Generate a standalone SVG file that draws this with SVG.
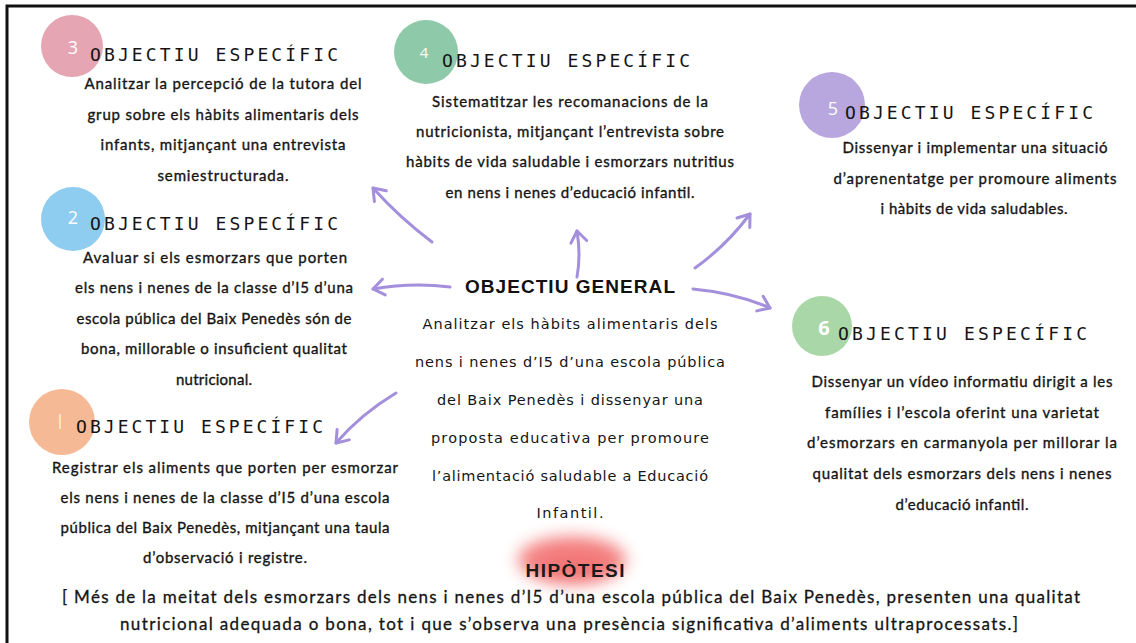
<svg xmlns="http://www.w3.org/2000/svg" width="1136" height="643" viewBox="0 0 1136 643">
<style>
.hdr{font-family:"DejaVu Sans Mono","Liberation Mono",monospace;font-size:18px;fill:#151515}
.body{font-family:Lato,"Open Sans",sans-serif;font-size:15px;fill:#151515;stroke:#151515;stroke-width:0.35;text-anchor:middle}
.gen{font-family:"DejaVu Sans","Liberation Sans",sans-serif;font-size:14.5px;fill:#151515;text-anchor:middle}
.num{font-family:"Open Sans","Liberation Sans",sans-serif;fill:#fff;text-anchor:middle}
.arrow{fill:none;stroke:#a48fdc;stroke-width:3;stroke-linecap:round;stroke-linejoin:round}
.hyp{font-family:Lato,"Open Sans",sans-serif;font-size:17px;fill:#151515;stroke:#151515;stroke-width:0.3;text-anchor:middle}
</style>
<defs>
<marker id="ah" markerUnits="userSpaceOnUse" markerWidth="30" markerHeight="30" refX="0" refY="0" orient="auto" overflow="visible">
<path d="M-11,-8 L0,0 L-11,8" fill="none" stroke="#a48fdc" stroke-width="3" stroke-linecap="round" stroke-linejoin="round"/>
</marker>
<filter id="blur" x="-50%" y="-50%" width="200%" height="200%"><feGaussianBlur stdDeviation="8"/></filter>
</defs>
<rect width="1136" height="643" fill="#fff"/>
<path d="M7,643 L7,6 L1136,6" fill="none" stroke="#111" stroke-width="3"/>

<g id="connectors">
<path class="arrow" marker-end="url(#ah)" d="M432,242 Q400,218 373,188"/>
<path class="arrow" marker-end="url(#ah)" d="M450,287 Q412,282 373,289"/>
<path class="arrow" marker-end="url(#ah)" d="M577,277 Q581,255 577,231"/>
<path class="arrow" marker-end="url(#ah)" d="M695,268 Q726,246 750,214"/>
<path class="arrow" marker-end="url(#ah)" d="M693,289 Q736,293 770,308"/>
<path class="arrow" marker-end="url(#ah)" d="M396,393 Q361,414 336,443"/>
</g>

<g id="obj3">
<circle cx="72" cy="46" r="31" fill="#e6a5b3"/>
<text class="num" x="73" y="54" font-size="18">3</text>
<text class="hdr" x="90" y="61" textLength="248">OBJECTIU ESPECÍFIC</text>
<text class="body" x="223" y="89" textLength="277">Analitzar la percepció de la tutora del</text>
<text class="body" x="223" y="120" textLength="271">grup sobre els hàbits alimentaris dels</text>
<text class="body" x="223" y="150" textLength="245">infants, mitjançant una entrevista</text>
<text class="body" x="223" y="181" textLength="131">semiestructurada.</text>
</g>

<g id="obj4">
<circle cx="426" cy="52" r="32" fill="#8ecaa9"/>
<text class="num" x="424" y="58" font-size="15">4</text>
<text class="hdr" x="442" y="67" textLength="248">OBJECTIU ESPECÍFIC</text>
<text class="body" x="570" y="107" textLength="276">Sistematitzar les recomanacions de la</text>
<text class="body" x="570" y="137" textLength="308">nutricionista, mitjançant l’entrevista sobre</text>
<text class="body" x="570" y="167" textLength="328">hàbits de vida saludable i esmorzars nutritius</text>
<text class="body" x="570" y="198" textLength="249">en nens i nenes d’educació infantil.</text>
</g>

<g id="obj5">
<circle cx="832" cy="105" r="33" fill="#b8a6df"/>
<text class="num" x="833" y="115" font-size="18">5</text>
<text class="hdr" x="845" y="119" textLength="248">OBJECTIU ESPECÍFIC</text>
<text class="body" x="975" y="153" textLength="265">Dissenyar i implementar una situació</text>
<text class="body" x="975" y="184" textLength="283">d’aprenentatge per promoure aliments</text>
<text class="body" x="974" y="214" textLength="187">i hàbits de vida saludables.</text>
</g>

<g id="obj2">
<circle cx="73" cy="219" r="32" fill="#8fcdf0"/>
<text class="num" x="73" y="224" font-size="18">2</text>
<text class="hdr" x="90" y="230" textLength="248">OBJECTIU ESPECÍFIC</text>
<text class="body" x="215" y="263" textLength="264">Avaluar si els esmorzars que porten</text>
<text class="body" x="214" y="293" textLength="278">els nens i nenes de la classe d’I5 d’una</text>
<text class="body" x="214" y="324" textLength="275">escola pública del Baix Penedès són de</text>
<text class="body" x="214" y="354" textLength="266">bona, millorable o insuficient qualitat</text>
<text class="body" x="214" y="385" textLength="76">nutricional.</text>
</g>

<g id="obj1">
<circle cx="62" cy="422" r="33" fill="#f5b995"/>
<text class="num" x="60" y="429" font-size="20" font-weight="300">I</text>
<text class="hdr" x="76" y="433" textLength="247">OBJECTIU ESPECÍFIC</text>
<text class="body" x="225" y="473" textLength="346">Registrar els aliments que porten per esmorzar</text>
<text class="body" x="225" y="503" textLength="329">els nens i nenes de la classe d’I5 d’una escola</text>
<text class="body" x="225" y="533" textLength="329">pública del Baix Penedès, mitjançant una taula</text>
<text class="body" x="225" y="563" textLength="164">d’observació i registre.</text>
</g>

<g id="obj6">
<circle cx="822" cy="326" r="30" fill="#a9d7a8"/>
<text class="num" x="824" y="335" font-size="20" font-weight="bold">6</text>
<text class="hdr" x="838" y="340" textLength="249">OBJECTIU ESPECÍFIC</text>
<text class="body" x="962" y="387" textLength="301">Dissenyar un vídeo informatiu dirigit a les</text>
<text class="body" x="962" y="418" textLength="274">famílies i l’escola oferint una varietat</text>
<text class="body" x="962" y="448" textLength="310">d’esmorzars en carmanyola per millorar la</text>
<text class="body" x="962" y="479" textLength="299">qualitat dels esmorzars dels nens i nenes</text>
<text class="body" x="962" y="510" textLength="133">d’educació infantil.</text>
</g>

<g id="general">
<text x="570" y="293" text-anchor="middle" font-family="'Liberation Sans',Arial,sans-serif" font-weight="bold" font-size="19" fill="#111" textLength="210">OBJECTIU GENERAL</text>
<text class="gen" x="570" y="329" textLength="295">Analitzar els hàbits alimentaris dels</text>
<text class="gen" x="570" y="367" textLength="310">nens i nenes d’I5 d’una escola pública</text>
<text class="gen" x="570" y="405" textLength="266">del Baix Penedès i dissenyar una</text>
<text class="gen" x="570" y="443" textLength="278">proposta educativa per promoure</text>
<text class="gen" x="570" y="481" textLength="276">l’alimentació saludable a Educació</text>
<text class="gen" x="570" y="518" textLength="67">Infantil.</text>
</g>

<g id="hipotesi">
<ellipse cx="572" cy="560" rx="54" ry="24" fill="#f26868" opacity="0.8" filter="url(#blur)"/>
<ellipse cx="574" cy="565" rx="38" ry="14" fill="#f26868" opacity="0.5" filter="url(#blur)"/>
<text x="575" y="577" text-anchor="middle" font-family="'Liberation Sans',Arial,sans-serif" font-weight="bold" font-size="19" fill="#1a1a1a" textLength="99">HIPÒTESI</text>
<text class="hyp" x="571" y="603" textLength="1018">[ Més de la meitat dels esmorzars dels nens i nenes d’I5 d’una escola pública del Baix Penedès, presenten una qualitat</text>
<text class="hyp" x="569" y="630" textLength="898">nutricional adequada o bona, tot i que s’observa una presència significativa d’aliments ultraprocessats.]</text>
</g>
</svg>
